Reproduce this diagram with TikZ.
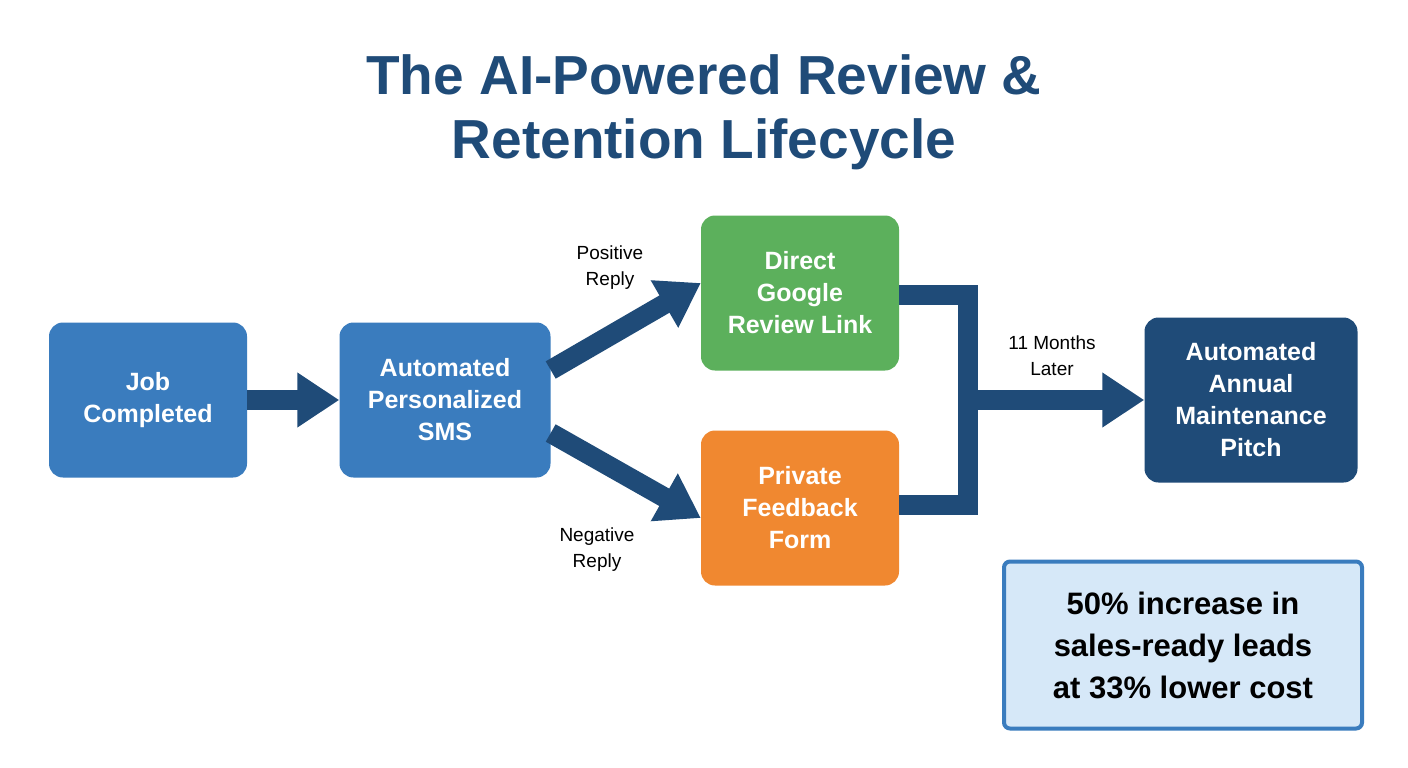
\documentclass[tikz,border=0pt]{standalone}
\usepackage{fontspec}
\setmainfont{Liberation Sans}
\usetikzlibrary{arrows.meta, positioning}
\definecolor{navy}{RGB}{31, 75, 120}
\definecolor{stepblue}{RGB}{58, 124, 190}
\definecolor{stepgreen}{RGB}{92, 176, 92}
\definecolor{steporange}{RGB}{240, 136, 48}
\definecolor{statfill}{RGB}{214, 232, 248}

\begin{document}
\begin{tikzpicture}[
    x=1pt, y=-1pt,
    box/.style={rounded corners=14pt, minimum width=198pt, minimum height=155pt, align=center, text=white, font=\fontsize{25}{32}\selectfont\bfseries},
    label/.style={align=center, font=\fontsize{19}{26}\selectfont},
    arrow/.style={draw=navy, line width=20pt, -{Triangle[length=42pt, width=52pt]}},
    bar/.style={draw=navy, line width=20pt, line join=miter}
]
\useasboundingbox[fill=white] (0,0) rectangle (1408,768);
\node[align=center, text=navy, font=\fontsize{55}{64}\selectfont\bfseries] (title) at (704,112) {The AI-Powered Review \&\\Retention Lifecycle};

\node[box, fill=stepblue] (job) at (148,400) {Job\\Completed};
\node[box, fill=stepblue, minimum width=211pt] (sms) at (445,400) {Automated\\Personalized\\SMS};
\node[box, fill=stepgreen] (review) at (800,293) {Direct\\Google\\Review Link};
\node[box, fill=steporange] (feedback) at (800,508) {Private\\Feedback\\Form};
\node[box, fill=navy, minimum width=213pt, minimum height=165pt] (pitch) at (1251,400) {Automated\\Annual\\Maintenance\\Pitch};
\node[draw=stepblue, line width=4pt, fill=statfill, rounded corners=6pt, minimum width=358pt, minimum height=167pt, align=center, font=\fontsize{31}{42}\selectfont\bfseries] (stat) at (1183,645) {50\% increase in\\sales-ready leads\\at 33\% lower cost};

\coordinate (top) at (968,295);
\coordinate (bottom) at (968,505);
\coordinate (joint) at (968,400);

\draw[arrow] (job.east) -- (sms.west);
\draw[arrow] (sms.east |- 0,370) -- (review.west |- 0,283);
\draw[arrow] (sms.east |- 0,433) -- (feedback.west |- 0,518);
\draw[bar] (review.east |- top) -- (top) -- (bottom) -- (feedback.east |- bottom);
\draw[arrow] ([xshift=-10pt]joint) -- (pitch.west);

\node[label] (pos) at (610,268) {Positive\\Reply};
\node[label] (neg) at (597,550) {Negative\\Reply};
\node[label] (later) at (1052,356) {11 Months\\Later};
\end{tikzpicture}
\end{document}
